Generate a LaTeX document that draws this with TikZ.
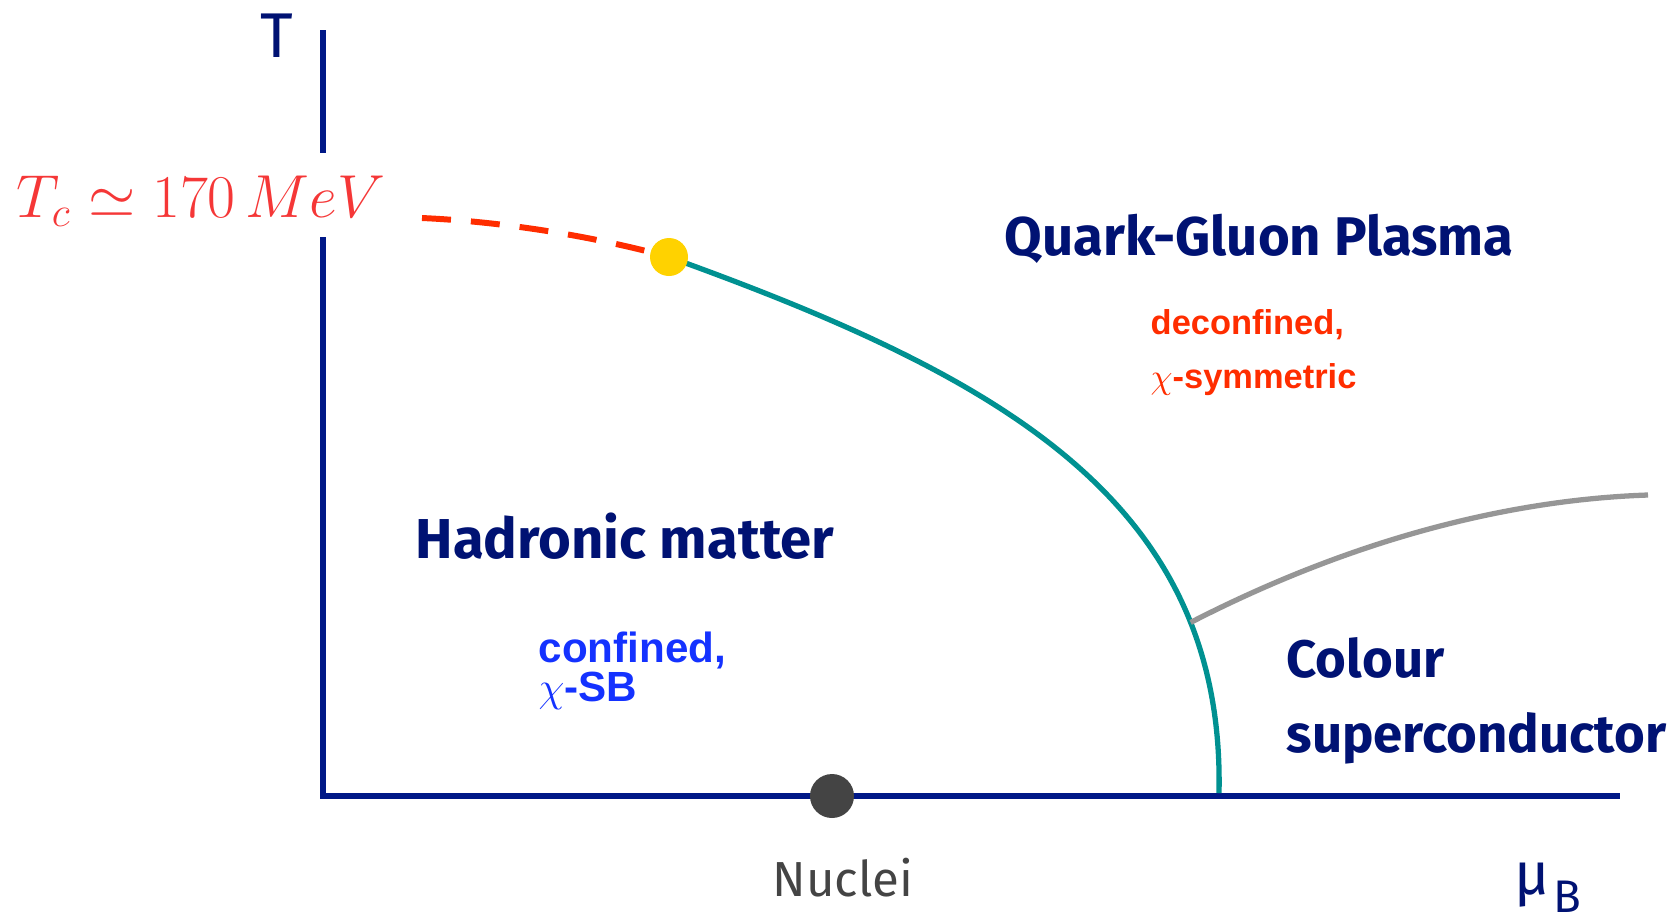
\documentclass[tikz,border=0pt]{standalone}
\usepackage{fontspec}
\setmainfont{Fira Sans}
\newfontfamily\helv{Liberation Sans}
\usetikzlibrary{positioning,calc}
\definecolor{navy}{RGB}{0,24,135}
\definecolor{ink}{RGB}{0,18,115}
\definecolor{crit}{RGB}{0,145,145}
\definecolor{csline}{RGB}{150,150,150}
\definecolor{xred}{RGB}{255,45,0}
\definecolor{tcred}{RGB}{245,55,55}
\definecolor{cfblue}{RGB}{20,50,255}
\definecolor{nucgray}{RGB}{68,68,68}
\definecolor{cpyellow}{RGB}{255,210,0}
\tikzset{
  ax/.style={line width=1.9pt, navy},
  pb/.style={line width=1.5pt, crit},
  csb/.style={line width=1.5pt, csline},
  xover/.style={line width=1.7pt, xred, dash pattern=on 2.9mm off 2mm},
  phase/.style={inner sep=0pt, anchor=base west, text=ink, font=\fontsize{16}{19}\selectfont\bfseries},
  prop/.style={inner sep=0pt, anchor=base west, font=\helv\bfseries},
  pt/.style={circle, inner sep=0pt, minimum size=#1},
}

\begin{document}
\begin{tikzpicture}[x=0.1mm, y=-0.1mm]
  \useasboundingbox (0,0) rectangle (1676,919);
  % axes
  \coordinate (O) at (323,796);
  \coordinate (Ttop) at (323,30);
  \coordinate (gapup) at (323,153);
  \coordinate (gapdn) at (323,237);
  \coordinate (muend) at (1620,796);
  \draw[ax] (Ttop) -- (gapup);
  \draw[ax] (gapdn) -- (O) -- (muend);
  \node[inner sep=0pt, anchor=base, text=ink, font=\fontsize{18}{20}\selectfont] (tlab) at (277,57) {T};
  \node[inner sep=0pt, anchor=base west, text=ink, font=\fontsize{17}{20}\selectfont] (mulab) at (1514,894)
    {μ\hspace{1pt}\raisebox{-5.2pt}{\fontsize{13}{13}\selectfont B}};
  \node[inner sep=0pt, anchor=base east, text=tcred, font=\fontsize{17}{20}\selectfont] (tc) at (386,217)
    {$T_c \simeq 170\,MeV$};

  % phase boundaries
  \coordinate (cpc) at (669,257);
  \coordinate (xstart) at (422,218);
  \coordinate (pbend) at (1219,793);
  \coordinate (csend) at (1648,495);
  \draw[xover] (xstart) .. controls (510,222) and (600,238) .. (cpc);
  \draw[pb] (cpc) .. controls (999,376) and (1225,500) .. coordinate[pos=0.78] (trip) (pbend);
  \draw[csb] (trip) .. controls (1343,544) and (1500,500) .. (csend);
  \node[pt=3.8mm, fill=cpyellow] (cp) at (cpc) {};
  \node[pt=4.4mm, fill=nucgray] (nuc) at (832,796) {};
  \node[inner sep=0pt, anchor=base, text=nucgray, font=\fontsize{14}{16}\selectfont] (nuclab) at (843,896) {Nuclei};

  % phases
  \node[phase, font=\fontsize{15.5}{19}\selectfont\bfseries] (qgp) at (1004,255) {Quark-Gluon Plasma};
  \node[prop, text=xred, font=\helv\bfseries\fontsize{9.8}{12}\selectfont] (deconf) at (1150,334) {deconfined,};
  \node[prop, text=xred, font=\helv\bfseries\fontsize{9.8}{12}\selectfont] (chisym) at ($(deconf.base west)+(0,54)$) {$\chi$-symmetric};
  \node[phase] (had) at (415,558) {Hadronic matter};
  \node[prop, text=cfblue, font=\helv\bfseries\fontsize{12}{14}\selectfont] (conf) at (538,662) {confined,};
  \node[prop, text=cfblue, font=\helv\bfseries\fontsize{12}{14}\selectfont] (chisb) at ($(conf.base west)+(0,39)$) {$\chi$-SB};
  \node[phase, font=\fontsize{15}{18}\selectfont\bfseries] (colour) at (1286,677) {Colour};
  \node[phase, font=\fontsize{15}{18}\selectfont\bfseries] (supc) at (1286,752) {superconductor};
\end{tikzpicture}
\end{document}
